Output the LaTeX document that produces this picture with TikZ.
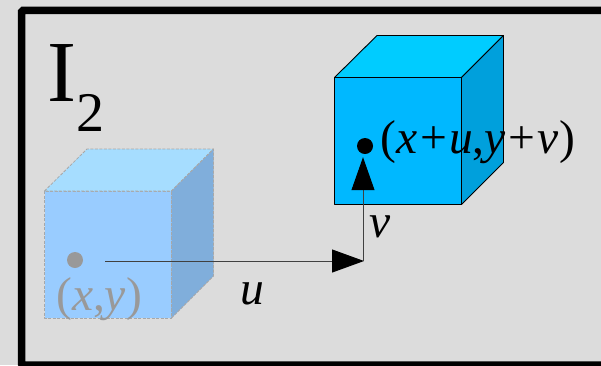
\documentclass[tikz,border=0pt]{standalone}
\usepackage{fontspec}
\setmainfont{Liberation Serif}
\usetikzlibrary{arrows.meta}
\definecolor{bgc}{HTML}{DCDCDC}
\definecolor{lfront}{HTML}{99CCFF}
\definecolor{ltop}{HTML}{A6DDFF}
\definecolor{lside}{HTML}{80AEDB}
\definecolor{dfront}{HTML}{00B8FF}
\definecolor{dtop}{HTML}{00CCFF}
\definecolor{dside}{HTML}{00A0DC}
\definecolor{ledge}{HTML}{A8A8A8}
\definecolor{ghost}{HTML}{999999}
\definecolor{wire}{HTML}{404040}
\newcommand{\rmp}[1]{{\upshape #1}}
\tikzset{
  x=1pt,y=-1pt,
  frameline/.style={draw=black,line width=7.5pt,rounded corners=1.5pt},
  ghostface/.style={draw=ledge,line width=0.8pt,dash pattern=on 3pt off 1.5pt,line join=round},
  solidface/.style={draw=black,line width=0.9pt,line join=round},
  dot/.style={circle,inner sep=0pt,minimum size=16pt,fill=#1},
  lbl/.style={inner sep=0pt,anchor=base west,font=\fontsize{47.5}{48}\selectfont\itshape},
  wireline/.style={draw=wire,line width=1pt,-{Triangle[length=#1,width=23pt,fill=black,color=black]}},
}
\begin{document}
\begin{tikzpicture}
\clip (0,0) rectangle (601,365);
\fill[bgc] (0,0) rectangle (601,365);
\draw[frameline] (21.5,10.3) rectangle (660,365);
% ghost cube
\filldraw[ghostface,fill=lfront] (44.5,191) rectangle (171.5,318);
\filldraw[ghostface,fill=ltop] (44.5,191) -- (87,149) -- (213.5,149) -- (171.5,191) -- cycle;
\filldraw[ghostface,fill=lside] (171.5,191) -- (213.5,149) -- (213.5,276) -- (171.5,318) -- cycle;
% solid cube
\filldraw[solidface,fill=dfront] (334.5,77.5) rectangle (461.5,204.5);
\filldraw[solidface,fill=dtop] (334.5,77.5) -- (377,35.5) -- (503.5,35.5) -- (461.5,77.5) -- cycle;
\filldraw[solidface,fill=dside] (461.5,77.5) -- (503.5,35.5) -- (503.5,162.5) -- (461.5,204.5) -- cycle;
% labels
\node[inner sep=0pt,anchor=base west,font=\fontsize{87}{87}\selectfont] (iname) at (47.5,101.5) {I};
\node[inner sep=0pt,anchor=base west,font=\fontsize{56}{56}\selectfont] (isub) at (76.5,131.5) {2};
\node[lbl,text=ghost] (src) at (56,310) {\rmp{(}x\rmp{,}y\rmp{)}};
\node[lbl] (dst) at (380,153) {\rmp{(}x+u\rmp{,}y+v\rmp{)}};
\node[lbl] (ulbl) at (240,304) {u};
\node[lbl] (vlbl) at (369,237) {v};
% dots
\node[dot=ghost] (pa) at (75,260) {};
\node[dot=black] (pb) at (365,146) {};
% connectors
\coordinate (st) at (105,261);
\coordinate (co) at (363,261);
\draw[wireline=32pt,shorten >=-1pt] (st) -- (co);
\draw[wireline=33pt,shorten >=3pt] (co) -- (co |- pb.south);
\end{tikzpicture}
\end{document}
